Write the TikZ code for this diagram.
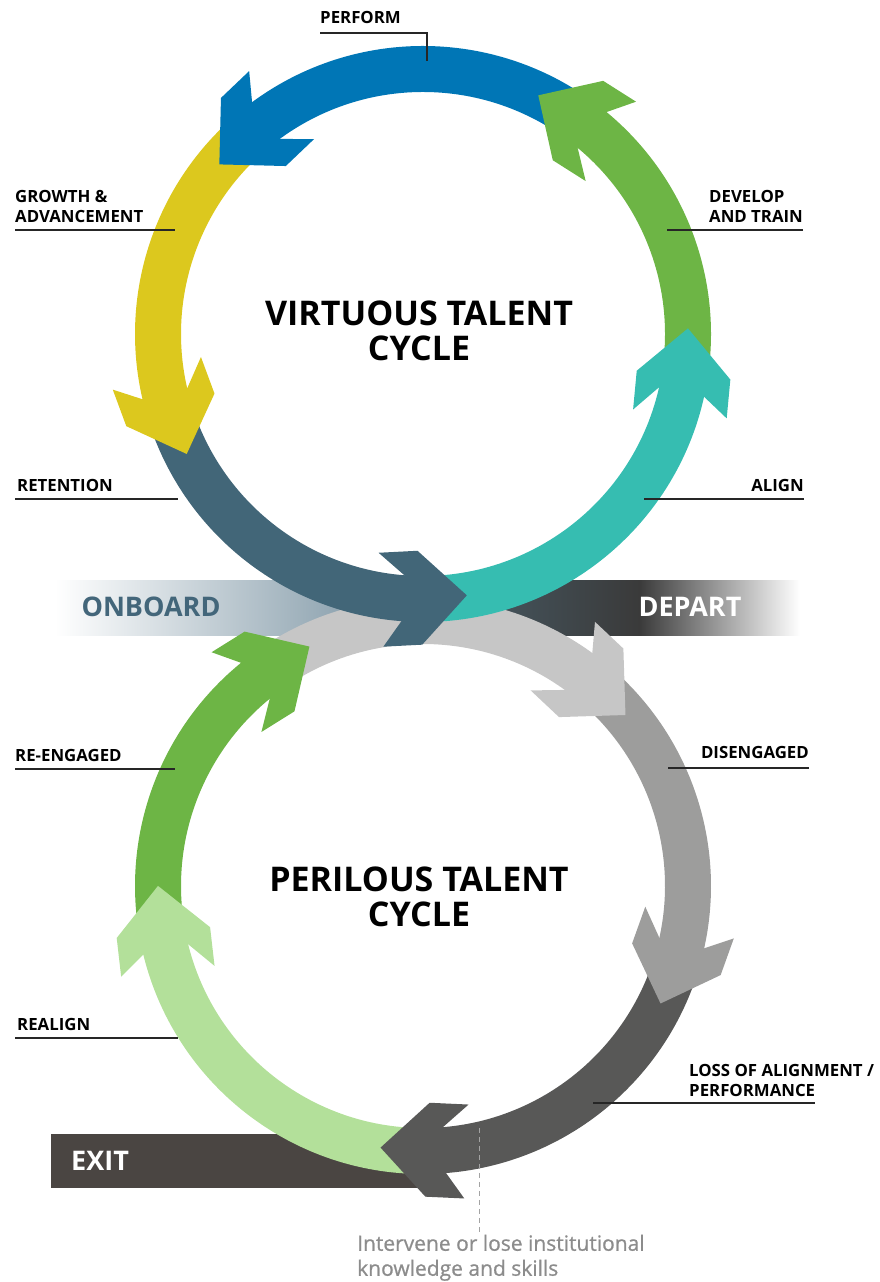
\documentclass[tikz,border=0pt]{standalone}
\usepackage{fontspec}
\setmainfont{Open Sans}
\newfontfamily\notefont[FakeBold=0.8]{Open Sans}
\definecolor{cBlue}{RGB}{0,118,182}
\definecolor{cGreen}{RGB}{109,181,69}
\definecolor{cTeal}{RGB}{54,189,177}
\definecolor{cSlate}{RGB}{66,102,120}
\definecolor{cYellow}{RGB}{220,200,30}
\definecolor{cLightGray}{RGB}{198,198,198}
\definecolor{cMidGray}{RGB}{157,157,156}
\definecolor{cDarkGray}{RGB}{88,88,87}
\definecolor{cLightGreen}{RGB}{179,224,154}
\definecolor{cExit}{RGB}{74,69,66}
\definecolor{cOnboard}{RGB}{67,102,122}
\definecolor{cBand}{RGB}{122,147,162}
\definecolor{cDepartL}{RGB}{72,92,103}
\definecolor{cDepartM}{RGB}{58,58,58}
\definecolor{cNote}{RGB}{140,140,140}
\begin{document}
\begin{tikzpicture}[x=1pt, y=1pt,
    lbl/.style={font=\bfseries\fontsize{16.8}{20}\selectfont, inner sep=0pt, align=left},
    rule/.style={line width=1.3pt, black!85},
    title/.style={font=\bfseries\fontsize{34}{35}\selectfont, align=center},
    band/.style={font=\bfseries\fontsize{27}{27}\selectfont, inner sep=0pt},
    note/.style={font=\notefont\fontsize{21}{25}\selectfont, text=cNote, inner sep=0pt, align=left}]
  \useasboundingbox (0,0) rectangle (879,1282);
  \coordinate (top) at (423,948);
  \coordinate (bot) at (423,396);

  % bands behind both cycles
  \shade[left color=white, right color=cBand] (55,646) rectangle (400,701);
  \shade[left color=cDepartL, right color=cDepartM] (440,646) rectangle (640,701);
  \shade[left color=cDepartM, right color=white] (639,646) rectangle (800,701);
  \fill[cExit] (51,94) rectangle (420,148);
  \node[band, text=cOnboard] (onboard) at (151,675) {ONBOARD};
  \node[band, text=white] (depart) at (690,675) {DEPART};
  \node[band, text=white, anchor=west] (exit) at (71,121) {EXIT};

  % perilous cycle (clockwise)
  \foreach \from/\to/\col in {128.6/53.4/cLightGray, 53.4/-13.1/cMidGray, -13.1/-86/cDarkGray, -86/-166.8/cLightGreen, 193.2/128.6/cGreen}
    \fill[\col] ([shift={(\from:288)}]bot) arc[start angle=\from, end angle=\to, radius=288]
      -- ([shift={(\to:242)}]bot) arc[start angle=\to, end angle=\from, radius=242] -- cycle;
  \foreach \ang/\col in {53.4/cLightGray, -13.1/cMidGray, -86/cDarkGray, 193.2/cLightGreen, 128.6/cGreen}
    \fill[\col, shift={(bot)}, rotate=\ang, yscale=-1]
      (258,60.6) -- (310.1,19.3) -- (314.6,-19.4) -- (288,-3) -- (242,-3) -- (221.2,-30.2) -- (216.7,8.5) -- cycle;

  % virtuous cycle (counter-clockwise)
  \foreach \from/\to/\col in {193.7/266.3/cSlate, 266.3/348/cTeal, -12/51/cGreen, 51/127/cBlue, 127/193.7/cYellow}
    \fill[\col] ([shift={(\from:288)}]top) arc[start angle=\from, end angle=\to, radius=288]
      -- ([shift={(\to:242)}]top) arc[start angle=\to, end angle=\from, radius=242] -- cycle;
  \foreach \ang/\col in {266.3/cSlate, 348/cTeal, 51/cGreen, 127/cBlue, 193.7/cYellow}
    \fill[\col, shift={(top)}, rotate=\ang]
      (258,60.6) -- (310.1,19.3) -- (314.6,-19.4) -- (288,-3) -- (242,-3) -- (221.2,-30.2) -- (216.7,8.5) -- cycle;

  \node[title] (virtuous) at (419,951) {VIRTUOUS TALENT\\CYCLE};
  \node[title] (perilous) at (419,385) {PERILOUS TALENT\\CYCLE};

  % labels
  \coordinate (performtip) at (427,1221);
  \node[lbl, anchor=south west] (perform) at (320,1258) {PERFORM};
  \draw[rule] ([yshift=-9pt]perform.south west) -| (performtip);
  \node[lbl, anchor=south west] (growth) at (15,1059) {GROWTH \&\\ADVANCEMENT};
  \draw[rule] ([yshift=-7pt]growth.south west) -- ++(160,0);
  \node[lbl, anchor=south west] (develop) at (709,1059) {DEVELOP\\AND TRAIN};
  \draw[rule] ([yshift=-7pt]develop.south east) -- ++(-136,0);
  \node[lbl, anchor=south west] (retention) at (17,790) {RETENTION};
  \draw[rule] ([shift={(-2pt,-7pt)}]retention.south west) -- ++(163,0);
  \node[lbl, anchor=south east] (align) at (804,790) {ALIGN};
  \draw[rule] ([yshift=-7pt]align.south east) -- ++(-160,0);
  \node[lbl, anchor=south west] (reengaged) at (15,520) {RE-ENGAGED};
  \draw[rule] ([yshift=-7pt]reengaged.south west) -- ++(160,0);
  \node[lbl, anchor=south east] (disengaged) at (809,523) {DISENGAGED};
  \draw[rule] ([yshift=-9pt]disengaged.south east) -- ++(-141,0);
  \node[lbl, anchor=south west] (realign) at (17,251) {REALIGN};
  \draw[rule] ([shift={(-2pt,-7pt)}]realign.south west) -- ++(163,0);
  \node[lbl, anchor=south west] (loss) at (689,185) {LOSS OF ALIGNMENT /\\PERFORMANCE};
  \draw[rule] ([shift={(-96pt,-6pt)}]loss.south west) -- ++(222,0);

  \node[note, anchor=south west] (note) at (357,1) {Intervene or lose institutional\\knowledge and skills};
  \coordinate (cut) at (479,154);
  \draw[cNote!80, dash pattern=on 5pt off 4pt, line width=1pt] (cut) -- (cut |- note.north);
\end{tikzpicture}
\end{document}
